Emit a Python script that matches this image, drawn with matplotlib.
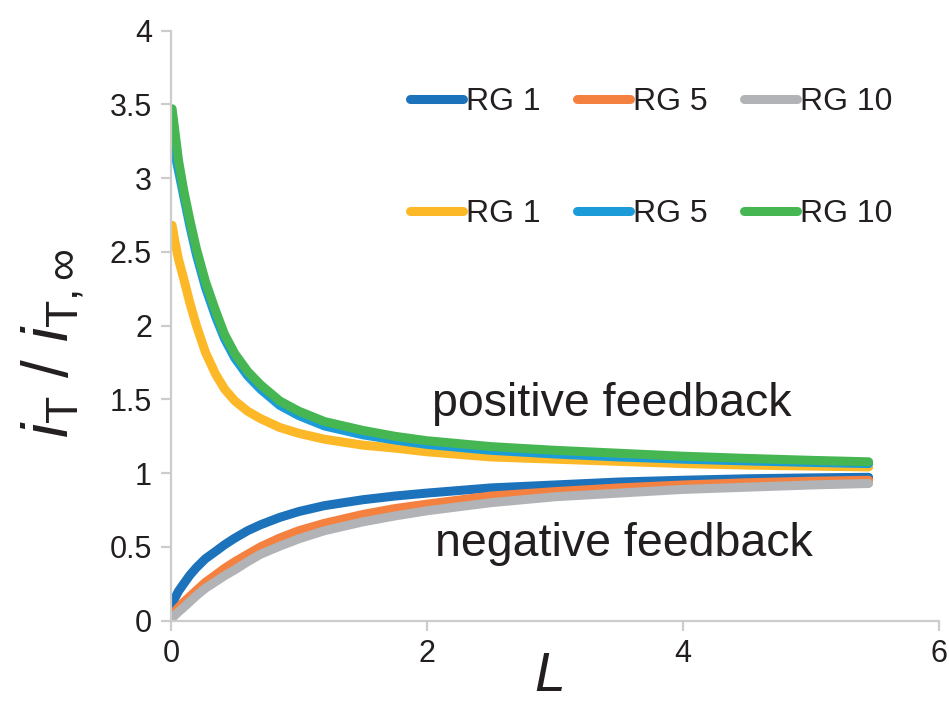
import matplotlib
matplotlib.use("Agg")
import matplotlib.pyplot as plt

plt.rcParams["font.family"] = ["Liberation Sans", "DejaVu Sans"]
plt.rcParams["mathtext.fontset"] = "custom"
plt.rcParams["mathtext.rm"] = "Liberation Sans"
plt.rcParams["mathtext.it"] = "Liberation Sans:italic"

# normalized distance
L = [0.01, 0.03, 0.06, 0.1, 0.15, 0.2, 0.27, 0.35, 0.42, 0.5, 0.6, 0.7, 0.85,
     1.0, 1.2, 1.5, 1.75, 2.0, 2.5, 3.0, 3.5, 4.0, 4.5, 5.0, 5.45]

# negative feedback (insulating substrate)
neg_rg1 = [0.10, 0.15, 0.20, 0.25, 0.31, 0.36, 0.42, 0.47, 0.515, 0.56, 0.61, 0.65, 0.70,
           0.74, 0.78, 0.82, 0.845, 0.865, 0.90, 0.92, 0.94, 0.952, 0.962, 0.968, 0.972]
neg_rg5 = [0.04, 0.06, 0.09, 0.125, 0.165, 0.205, 0.26, 0.31, 0.355, 0.40, 0.45, 0.50, 0.56,
           0.61, 0.66, 0.72, 0.76, 0.79, 0.845, 0.875, 0.90, 0.92, 0.935, 0.945, 0.952]
neg_rg10 = [0.02, 0.035, 0.06, 0.09, 0.13, 0.17, 0.22, 0.265, 0.305, 0.345, 0.40, 0.45, 0.505,
            0.555, 0.61, 0.67, 0.71, 0.745, 0.80, 0.84, 0.865, 0.89, 0.905, 0.92, 0.93]

# positive feedback (conducting substrate)
pos_rg1 = [2.68, 2.58, 2.45, 2.32, 2.15, 2.00, 1.82, 1.67, 1.57, 1.49, 1.42, 1.37, 1.31,
           1.27, 1.23, 1.19, 1.17, 1.145, 1.11, 1.095, 1.08, 1.065, 1.055, 1.048, 1.042]
pos_rg5 = [3.22, 3.17, 3.05, 2.88, 2.67, 2.48, 2.26, 2.06, 1.91, 1.78, 1.66, 1.57, 1.46,
           1.39, 1.32, 1.26, 1.225, 1.195, 1.155, 1.13, 1.11, 1.095, 1.083, 1.073, 1.065]
pos_rg10 = [3.47, 3.33, 3.12, 2.92, 2.71, 2.52, 2.30, 2.10, 1.94, 1.81, 1.69, 1.60, 1.49,
            1.42, 1.35, 1.29, 1.25, 1.22, 1.18, 1.155, 1.135, 1.115, 1.10, 1.087, 1.077]

labels = ["RG 1", "RG 5", "RG 10"]
neg_colors = ["#1c72bb", "#f4813f", "#b1b3b6"]
pos_colors = ["#fdb827", "#1b9cd9", "#46b653"]
text_color = "#231f20"

fig = plt.figure(figsize=(9.49, 7.11), dpi=100)
ax = fig.add_axes([0.180, 0.127, 0.8095, 0.830])

neg_lines = []
for y, c, lab in zip([neg_rg1, neg_rg5, neg_rg10], neg_colors, labels):
    ln, = ax.plot(L, y, color=c, lw=6.5, solid_capstyle="round", label=lab)
    neg_lines.append(ln)
pos_lines = []
for y, c, lab in zip([pos_rg1, pos_rg5, pos_rg10], pos_colors, labels):
    ln, = ax.plot(L, y, color=c, lw=6.5, solid_capstyle="round", label=lab)
    pos_lines.append(ln)

ax.set_xlim(0, 6)
ax.set_ylim(0, 4)
ax.set_xticks([0, 2, 4, 6])
ax.set_yticks([0, 0.5, 1, 1.5, 2, 2.5, 3, 3.5, 4])
ax.set_yticklabels(["0", "0.5", "1", "1.5", "2", "2.5", "3", "3.5", "4"])

for s in ["top", "right"]:
    ax.spines[s].set_visible(False)
for s in ["left", "bottom"]:
    ax.spines[s].set_color("#cccccc")
    ax.spines[s].set_linewidth(1.6)
ax.tick_params(axis="both", direction="out", length=7.5, width=1.6, color="#cccccc",
               labelsize=22, labelcolor=text_color, pad=6)

ax.set_xlabel(r"$L$", fontsize=40, color=text_color)
ax.xaxis.set_label_coords(0.491, -0.052)
ax.set_ylabel(r"$i_{\mathrm{T}}\ /\ i_{\mathrm{T},\infty}$", fontsize=46, color=text_color)
ax.yaxis.set_label_coords(-0.112, 0.47)

ax.text(3.44, 1.47, "positive feedback", fontsize=33.5, color=text_color, ha="center", va="center")
ax.text(3.54, 0.52, "negative feedback", fontsize=33.5, color=text_color, ha="center", va="center")

leg_kw = dict(ncol=3, frameon=False, fontsize=23, loc="center left", handlelength=1.65,
              handletextpad=0.1, columnspacing=1.15, borderpad=0, borderaxespad=0,
              bbox_transform=fig.transFigure)
leg1 = fig.legend(handles=neg_lines, bbox_to_anchor=(0.432, 0.8565), **leg_kw)
leg2 = fig.legend(handles=pos_lines, bbox_to_anchor=(0.432, 0.699), **leg_kw)
for leg in (leg1, leg2):
    for t in leg.get_texts():
        t.set_color(text_color)

fig.savefig("out.png", dpi=100)
